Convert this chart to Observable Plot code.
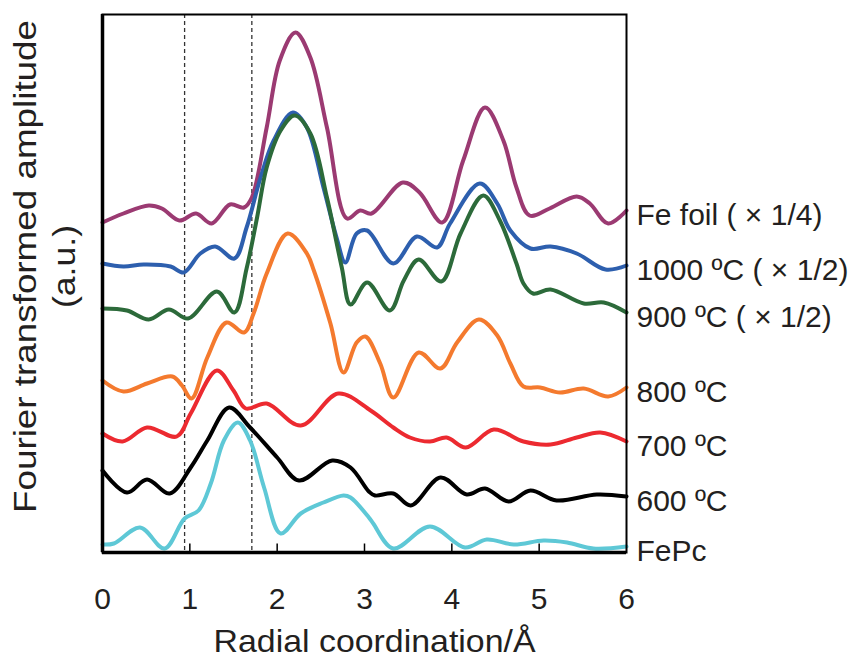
<!DOCTYPE html>
<html>
<head>
<meta charset="utf-8">
<script src="https://cdn.jsdelivr.net/npm/d3@7"></script>
<script src="https://cdn.jsdelivr.net/npm/@observablehq/plot@0.6"></script>
<style>
  html, body { margin: 0; padding: 0; background: #fff; }
  #chart svg { display: block; }
</style>
</head>
<body>
<div id="chart"></div>
<script>
// ---- Data (x in Å, amplitude in a.u.) ----
const xTicks = [0, 1, 2, 3, 4, 5, 6];
const innerTicks = [1, 2, 3, 4, 5];
const dashX = [0.94, 1.71];

const seriesNames = ["Fe foil ( × 1/4)", "1000 ºC ( × 1/2)", "900 ºC ( × 1/2)", "800 ºC", "700 ºC", "600 ºC", "FePc"];
const seriesColors = ["#9B3A72", "#2D5FAE", "#2C6A3A", "#F47A2E", "#EC2A30", "#000000", "#5EC8D6"];

const feFoil = [[0,33.0],[0.24,33.9],[0.53,34.7],[0.68,34.4],[0.88,33.2],[1.07,33.9],[1.25,32.9],[1.46,34.8],[1.62,34.5],[1.71,35.5],[1.88,42.5],[2.03,49.2],[2.21,52.0],[2.38,49.5],[2.57,42.5],[2.80,33.4],[2.95,34.2],[3.08,33.9],[3.44,37.0],[3.63,36.0],[3.89,33.0],[4.13,39.2],[4.38,44.5],[4.59,41.2],[4.74,36.5],[4.89,33.7],[5.12,34.4],[5.43,35.6],[5.58,34.9],[5.79,32.9],[6.0,34.2]];
const t1000 = [[0,28.9],[0.24,28.6],[0.47,28.8],[0.78,28.6],[0.93,28.0],[1.12,29.9],[1.29,30.6],[1.51,29.4],[1.65,32.5],[1.81,37.5],[1.96,41.2],[2.18,44.0],[2.34,42.5],[2.53,36.5],[2.68,31.5],[2.78,29.0],[2.91,31.9],[3.03,32.2],[3.33,28.9],[3.60,31.6],[3.83,30.5],[3.98,32.9],[4.32,36.9],[4.52,34.9],[4.67,32.2],[4.90,30.4],[5.13,30.6],[5.43,29.9],[5.76,28.3],[6.0,28.7]];
const t900 = [[0,24.4],[0.28,24.2],[0.53,23.3],[0.76,24.3],[0.98,23.4],[1.31,26.1],[1.51,24.0],[1.65,28.4],[1.77,33.5],[1.88,38.5],[2.04,42.2],[2.20,43.7],[2.38,41.9],[2.57,35.5],[2.74,28.5],[2.84,24.8],[3.03,27.0],[3.29,24.2],[3.45,27.2],[3.62,29.3],[3.88,27.1],[4.10,31.9],[4.36,35.7],[4.55,33.2],[4.74,28.9],[4.82,26.9],[4.93,25.9],[5.13,26.3],[5.51,24.9],[5.74,25.0],[6.0,24.0]];
const t800 = [[0,17.2],[0.24,16.1],[0.51,16.9],[0.80,17.6],[0.91,16.7],[1.02,15.4],[1.20,19.5],[1.42,23.0],[1.62,22.0],[1.73,23.9],[1.88,27.9],[2.12,31.9],[2.34,29.9],[2.42,28.2],[2.61,22.9],[2.76,18.0],[2.91,21.0],[3.01,21.6],[3.18,18.9],[3.33,15.5],[3.62,20.0],[3.87,18.4],[4.06,21.0],[4.31,23.3],[4.52,21.7],[4.67,18.9],[4.82,16.6],[5.01,16.5],[5.24,16.0],[5.51,16.4],[5.79,15.6],[6.0,16.5]];
const t700 = [[0,11.9],[0.23,11.1],[0.51,12.5],[0.85,11.6],[1.01,13.9],[1.31,18.2],[1.50,16.2],[1.64,14.4],[1.88,14.9],[2.27,12.7],[2.70,15.9],[3.07,14.2],[3.33,12.5],[3.52,11.5],[3.75,11.1],[3.94,11.5],[4.16,10.5],[4.48,12.3],[4.82,11.1],[5.13,10.8],[5.43,11.5],[5.70,12.0],[6.0,11.1]];
const t600 = [[0,8.2],[0.28,6.0],[0.51,7.3],[0.77,5.9],[1.01,8.5],[1.20,11.2],[1.45,14.5],[1.69,12.5],[2.00,9.5],[2.25,7.2],[2.63,9.2],[2.84,8.5],[3.05,6.1],[3.12,5.7],[3.33,5.9],[3.53,4.7],[3.87,7.5],[4.17,5.8],[4.38,6.4],[4.65,5.1],[4.90,6.2],[5.20,5.2],[5.66,5.8],[6.0,5.6]];
const fePc = [[0,0.8],[0.13,0.9],[0.43,2.5],[0.71,0.4],[0.94,3.4],[1.10,4.2],[1.24,6.9],[1.39,11.2],[1.55,13.0],[1.69,11.2],[1.85,6.5],[2.04,1.9],[2.27,3.9],[2.53,5.0],[2.76,5.7],[2.84,5.5],[3.05,3.5],[3.10,2.9],[3.33,0.4],[3.75,2.6],[4.15,0.5],[4.40,1.3],[4.71,0.8],[5.05,1.2],[5.32,1.0],[5.62,0.4],[6.0,0.6]];

const seriesPoints = [feFoil, t1000, t900, t800, t700, t600, fePc];

// ---- Build tables ----
const rows = seriesPoints.flatMap((pts, i) => pts.map(([x, y]) => ({series: seriesNames[i], x, y})));
const endRows = seriesPoints.map((pts, i) => ({series: seriesNames[i], x: pts[pts.length - 1][0], y: pts[pts.length - 1][1]}));

const FONT = "'Liberation Sans', Arial, Helvetica, sans-serif";
const INK = "#231F20";

const chart = Plot.plot({
  width: 851,
  height: 659,
  marginLeft: 102,
  marginRight: 225,
  marginTop: 14,
  marginBottom: 107,
  style: {fontFamily: FONT, color: INK, background: "#fff", overflow: "visible"},
  x: {domain: [0, 6]},
  y: {domain: [0, 53.8], axis: null},
  color: {domain: seriesNames, range: seriesColors},
  marks: [
    Plot.ruleX(dashX, {stroke: "#333", strokeWidth: 1.3, strokeDasharray: "4,3"}),
    Plot.line(rows, {x: "x", y: "y", z: "series", stroke: "series", strokeWidth: 4, curve: "catmull-rom", strokeLinejoin: "round", strokeLinecap: "round"}),
    Plot.frame({stroke: "#000", strokeWidth: 2}),
    Plot.ruleX([0], {stroke: "#000", strokeWidth: 3.5}),
    Plot.ruleY([0], {stroke: "#000", strokeWidth: 3.5}),
    Plot.ruleX(innerTicks, {y1: 0, y2: 0.85, stroke: "#000", strokeWidth: 1.5}),
    Plot.axisX({ticks: xTicks, tickSize: 0, tickPadding: 35, fontSize: 30, tickFormat: d3.format("d"), label: null, fill: INK}),
    Plot.text(endRows, {x: "x", y: "y", text: "series", dx: 10, dy: 5, textAnchor: "start", lineAnchor: "middle", fontSize: 30, fill: INK}),
    Plot.text(["Radial coordination/Å"], {frameAnchor: "bottom", dx: 10, dy: 89, textAnchor: "middle", lineAnchor: "middle", fontSize: 32, fill: INK}),
    Plot.text(["Fourier transformed amplitude"], {frameAnchor: "left", dx: -77, dy: -17, rotate: -90, textAnchor: "middle", lineAnchor: "middle", fontSize: 32, fill: INK}),
    Plot.text(["(a.u.)"], {frameAnchor: "left", dx: -37.5, dy: -17, rotate: -90, textAnchor: "middle", lineAnchor: "middle", fontSize: 32, fill: INK})
  ]
});

document.getElementById("chart").appendChild(chart);

// Stretch the axis titles to match the reference's wide lettering.
const stretch = {"Radial coordination/Å": 322, "Fourier transformed amplitude": 493, "(a.u.)": 83};
d3.select(chart).selectAll("text").each(function () {
  const t = this.textContent;
  if (stretch[t]) {
    d3.select(this).attr("textLength", stretch[t]).attr("lengthAdjust", "spacingAndGlyphs");
  }
});
</script>
</body>
</html>
